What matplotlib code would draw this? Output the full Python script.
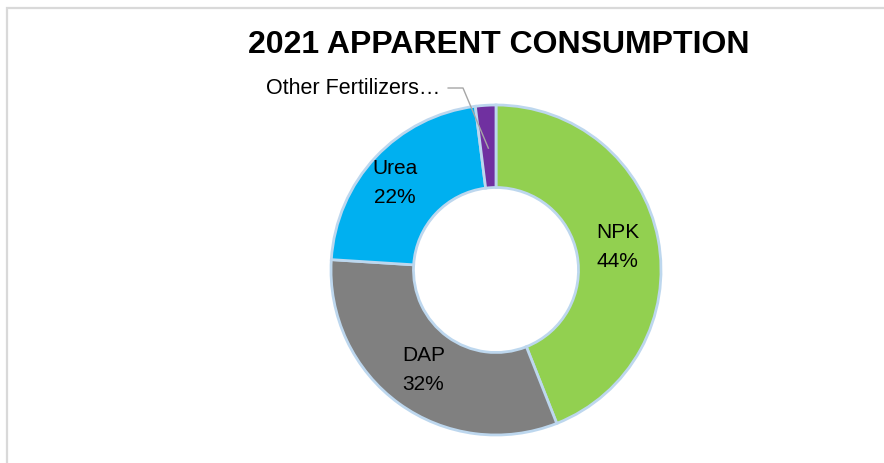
import numpy as np
import matplotlib.pyplot as plt
from matplotlib.patches import Rectangle

categories = ["NPK", "DAP", "Urea", "Other Fertilizers…"]
shares = [44, 32, 22, 2]
colors = ["#92D050", "#808080", "#00B0F0", "#7030A0"]

plt.rcParams['font.family'] = ['Liberation Sans', 'DejaVu Sans']

fig = plt.figure(figsize=(8.84, 4.63), dpi=100)

# light gray chart frame (cut off at right/bottom like the screenshot)
fig.patches.append(Rectangle((6.5 / 884, -0.1), 1.2, 1.1 - 7.5 / 463,
                             transform=fig.transFigure, fill=False,
                             edgecolor="#D9D9D9", linewidth=1.6))

ax = fig.add_axes([(496 - 165) / 884, (193 - 165) / 463, 330 / 884, 330 / 463])
wedges, _ = ax.pie(shares, colors=colors, startangle=90, counterclock=False,
                   radius=1.0, wedgeprops=dict(width=0.5, edgecolor="#BDD7EE", linewidth=2.0))
ax.set_xlim(-1, 1)
ax.set_ylim(-1, 1)
ax.set_aspect("equal")
ax.axis("off")
for w in wedges:
    w.set_clip_on(False)

# data labels inside the ring (Excel nudges the Urea label a bit outward)
label_r = [0.75, 0.75, 0.81]
label_turn = [0, 0, 2.5]
for w, name, val, r, dt in zip(wedges[:3], categories[:3], shares[:3], label_r, label_turn):
    mid = np.deg2rad((w.theta1 + w.theta2) / 2 + dt)
    ax.text(r * np.cos(mid), r * np.sin(mid), f"{name}\n{val}%",
            ha="center", va="center", fontsize=15, linespacing=1.7, color="#000000")

# small slice label with leader line
w = wedges[3]
mid = np.deg2rad((w.theta1 + w.theta2) / 2)
px, py = 0.74 * np.cos(mid), 0.74 * np.sin(mid)
tx, ty = -0.34, 1.103
ax.plot([tx + 0.05, tx + 0.14, px], [ty, ty, py], color="#A6A6A6", linewidth=1.0, clip_on=False)
ax.text(tx, ty, categories[3], ha="right", va="center", fontsize=15.5, color="#000000")

fig.text(499 / 884, 1 - 45 / 463, "2021 APPARENT CONSUMPTION", ha="center", va="center",
         fontsize=23, fontweight="bold", color="#000000")

fig.savefig("out.png", dpi=100)
